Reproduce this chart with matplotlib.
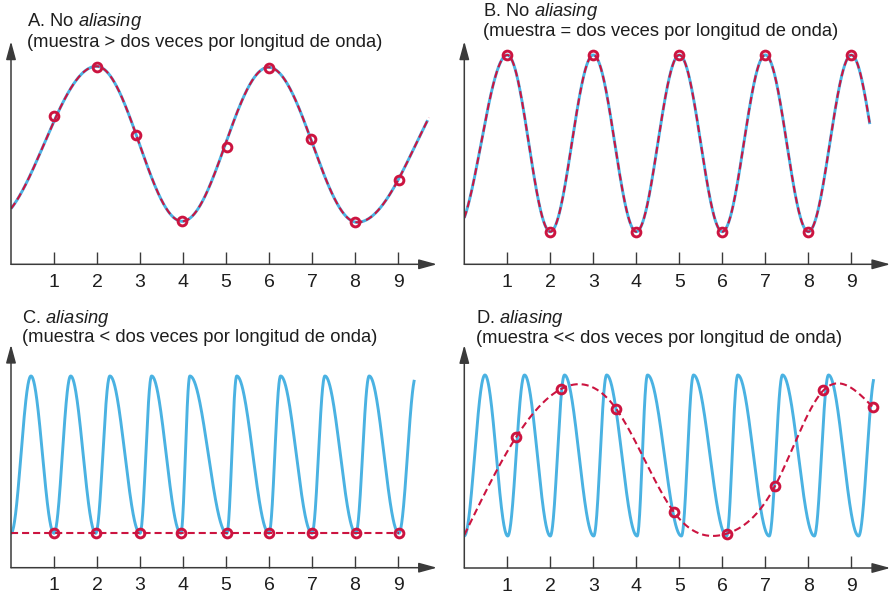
import numpy as np
import matplotlib
matplotlib.use("Agg")
import matplotlib.pyplot as plt

plt.rcParams["font.family"] = ["Liberation Sans", "DejaVu Sans"]
plt.rcParams["mathtext.fontset"] = "custom"
plt.rcParams["mathtext.rm"] = "Liberation Sans"
plt.rcParams["mathtext.it"] = "Liberation Sans:italic"

# ---- data (x in sample units, y in pixels above the x axis) ----
ticks = [1, 2, 3, 4, 5, 6, 7, 8, 9]

# A: blue wave extremes and samples; dashed line follows the wave
a_wave_x = [-0.45, 1.99, 3.98, 5.99, 8.05, 10.77]
a_wave_y = [43, 198, 43, 197, 42, 197]
a_wave_end = 9.69
a_samp_x = [1.0, 1.99, 2.90, 3.98, 5.03, 5.99, 6.98, 8.01, 9.02]
a_samp_y = [148.6, 197.6, 129.6, 43.3, 117.3, 196.0, 125.3, 42.6, 84.3]
a_dash_head = None
a_dash_end = 9.72

# B
b_wave_x = [-0.22, 1, 2, 3, 4, 5, 6, 7, 8, 9, 10]
b_wave_y = [32.6, 209.3, 32.6, 209.3, 32.6, 209.3, 32.6, 209.3, 32.6, 209.3, 32.6]
b_wave_end = 9.43
b_samp_x = [1, 2, 3, 4, 5, 6, 7, 8, 9]
b_samp_y = [209.3, 32.6, 209.3, 32.6, 209.3, 32.6, 209.3, 32.6, 209.3]
b_dash_head = None
b_dash_end = 9.43

# C: dashed line runs through the samples from the y axis
c_wave_x = [0, 0.465, 1.0, 1.388, 1.97, 2.30, 3.0, 3.27, 3.95, 4.16,
            5.02, 5.25, 6.0, 6.27, 7.0, 7.30, 8.02, 8.33, 9.02, 9.42]
c_wave_y = [34.4, 191.7] * 10
c_wave_end = 9.38
c_samp_x = [1.0, 1.97, 3.0, 3.95, 5.02, 6.0, 7.0, 8.02, 9.02]
c_samp_y = [34.4, 34.4, 34.4, 34.4, 34.4, 34.4, 34.4, 34.4, 34.4]
c_dash_head = (0.0, 34.4)
c_dash_end = 9.02

# D
d_wave_x = [0, 0.48, 1.01, 1.40, 2.0, 2.33, 3.01, 3.31, 4.02, 4.26,
            5.05, 5.33, 6.1, 6.36, 7.09, 7.40, 8.14, 8.47, 9.17, 9.56]
d_wave_y = [32, 193] * 10
d_wave_end = 9.52
d_samp_x = [1.20, 2.25, 3.53, 4.88, 6.10, 7.23, 8.35, 9.50]
d_samp_y = [130.6, 179.0, 159.3, 55.6, 34.3, 82.3, 177.6, 161.0]
d_dash_head = (0.0, 33.0)
d_dash_end = 9.50

titles = [
    ("A. No $\\it{aliasing}$", "(muestra > dos veces por longitud de onda)"),
    ("B. No $\\it{aliasing}$", "(muestra = dos veces por longitud de onda)"),
    ("C. $\\it{aliasing}$", "(muestra < dos veces por longitud de onda)"),
    ("D. $\\it{aliasing}$", "(muestra << dos veces por longitud de onda)"),
]

BLUE = "#4AB2E2"
RED = "#CC1440"
AXIS = "#3a3a3a"
TEXT = "#1e1e1e"
W, H = 891, 597


def wave(ext_x, ext_y, x_end, n=1500):
    ext_x = np.asarray(ext_x, float)
    ext_y = np.asarray(ext_y, float)
    xs = np.linspace(0, x_end, n)
    i = np.clip(np.searchsorted(ext_x, xs) - 1, 0, len(ext_x) - 2)
    t = (xs - ext_x[i]) / (ext_x[i + 1] - ext_x[i])
    ys = ext_y[i] + (ext_y[i + 1] - ext_y[i]) * (1 - np.cos(np.pi * t)) / 2
    return xs, ys


def smooth(xk, yk, n=800):
    # natural cubic spline through the knots
    xk = np.asarray(xk, float)
    yk = np.asarray(yk, float)
    m = len(xk)
    h = np.diff(xk)
    A = np.zeros((m, m))
    r = np.zeros(m)
    A[0, 0] = A[-1, -1] = 1
    for i in range(1, m - 1):
        A[i, i - 1] = h[i - 1]
        A[i, i] = 2 * (h[i - 1] + h[i])
        A[i, i + 1] = h[i]
        r[i] = 3 * ((yk[i + 1] - yk[i]) / h[i] - (yk[i] - yk[i - 1]) / h[i - 1])
    c = np.linalg.solve(A, r)
    b = (yk[1:] - yk[:-1]) / h - h * (2 * c[:-1] + c[1:]) / 3
    d = (c[1:] - c[:-1]) / (3 * h)
    xs = np.linspace(xk[0], xk[-1], n)
    i = np.clip(np.searchsorted(xk, xs) - 1, 0, m - 2)
    dx = xs - xk[i]
    return xs, yk[i] + b[i] * dx + c[i] * dx ** 2 + d[i] * dx ** 3


panels = [
    (a_wave_x, a_wave_y, a_wave_end, a_samp_x, a_samp_y, a_dash_head, a_dash_end),
    (b_wave_x, b_wave_y, b_wave_end, b_samp_x, b_samp_y, b_dash_head, b_dash_end),
    (c_wave_x, c_wave_y, c_wave_end, c_samp_x, c_samp_y, c_dash_head, c_dash_end),
    (d_wave_x, d_wave_y, d_wave_end, d_samp_x, d_samp_y, d_dash_head, d_dash_end),
]
# axes frames in pixels: left edge, x-axis row
frames = [(11, 264.3), (464.3, 264.3), (11, 567.7), (464.3, 568.0)]
title_pos = [(26.7, 26.0, 46.7), (483.0, 15.7, 35.5),
             (21.7, 322.7, 341.7), (476.0, 323.3, 342.7)]
AX_W, AX_H, PX = 426, 223, 43

fig = plt.figure(figsize=(W / 100, H / 100), dpi=100)

for k, (wx, wy, wend, sx, sy, head, dend) in enumerate(panels):
    left, base = frames[k]
    ax = fig.add_axes([left / W, (H - base) / H, AX_W / W, AX_H / H])
    ax.set_xlim(0, AX_W / PX)
    ax.set_ylim(0, AX_H)
    for s in ax.spines.values():
        s.set_visible(False)

    xs, ys = wave(wx, wy, wend)
    ax.plot(xs, ys, color=BLUE, lw=2.1, solid_capstyle="butt", zorder=2)

    if head is None:
        # well sampled: the reconstruction is the wave itself
        dx, dy = wave(wx, wy, dend)
    else:
        kx = [head[0]] + list(sx)
        ky = [head[1]] + list(sy)
        if np.ptp(ky) < 1e-6:
            dx, dy = np.array([kx[0], kx[-1]]), np.array([ky[0], ky[-1]])
        else:
            dx, dy = smooth(kx, ky)
    ax.plot(dx, dy, color=RED, lw=1.5, ls=(0, (3.4, 1.9)), zorder=3)

    ax.plot(sx, sy, ls="none", marker="o", ms=6.3, mfc="none",
            mec=RED, mew=2.1, zorder=4, clip_on=False)

    ax.set_yticks([])
    ax.set_xticks(ticks)
    ax.set_xticklabels([str(t) for t in ticks], fontsize=14, color=TEXT)
    ax.tick_params(axis="x", direction="in", length=9, width=1.0,
                   color=AXIS, pad=7.0)

    arrow = dict(arrowstyle="-|>,head_length=1.1,head_width=0.3",
                 color=AXIS, lw=1.1, shrinkA=0, shrinkB=0, mutation_scale=10)
    ax.annotate("", xy=(1, 0), xytext=(0, 0), xycoords="axes fraction",
                arrowprops=arrow, annotation_clip=False)
    ax.annotate("", xy=(0, 1), xytext=(0, 0), xycoords="axes fraction",
                arrowprops=arrow, annotation_clip=False)

    tx, b1, b2 = title_pos[k]
    fig.text(tx / W, 1 - b1 / H, titles[k][0], fontsize=13.2,
             va="baseline", ha="left", color=TEXT)
    fig.text(tx / W, 1 - b2 / H, titles[k][1], fontsize=13.2,
             va="baseline", ha="left", color=TEXT)

fig.savefig("out.png", dpi=100, facecolor="white")
